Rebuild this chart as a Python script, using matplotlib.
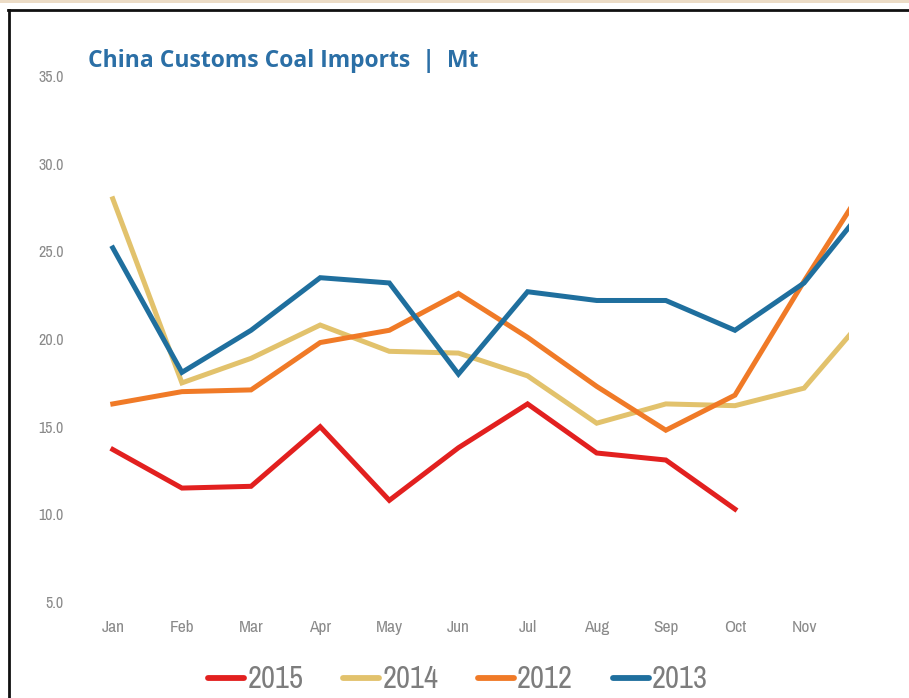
import numpy as np
import matplotlib
matplotlib.use("Agg")
import matplotlib.pyplot as plt
from matplotlib.lines import Line2D
from matplotlib.patches import Rectangle

months = ["Jan", "Feb", "Mar", "Apr", "May", "Jun", "Jul", "Aug", "Sep", "Oct", "Nov", "Dec"]
y2015 = [13.7, 11.5, 11.6, 15.0, 10.8, 13.8, 16.3, 13.5, 13.1, 10.3]
y2014 = [28.0, 17.5, 18.9, 20.8, 19.3, 19.2, 17.9, 15.2, 16.3, 16.2, 17.2, 21.8]
y2012 = [16.3, 17.0, 17.1, 19.8, 20.5, 22.6, 20.1, 17.3, 14.8, 16.8, 23.3, 29.5]
y2013 = [25.2, 18.1, 20.5, 23.5, 23.2, 18.0, 22.7, 22.2, 22.2, 20.5, 23.2, 28.1]
yticks = [5.0, 10.0, 15.0, 20.0, 25.0, 30.0, 35.0]

series = [("2015", y2015, "#e2201f"),
          ("2014", y2014, "#e2c26c"),
          ("2012", y2012, "#f07a27"),
          ("2013", y2013, "#1f6f9e")]

NARROW = ["Archivo Narrow", "DejaVu Sans"]
GREY = "#8a8a8a"

fig = plt.figure(figsize=(9.09, 6.98), dpi=100)
ax = fig.add_axes([0.099, 0.1375, 0.835, 0.7535])

for name, vals, col in series:
    ax.plot(np.arange(len(vals)), vals, color=col, lw=3.6, label=name,
            solid_joinstyle="miter")

ax.set_xticks(np.arange(len(months)))
ax.set_xticklabels(months, family=NARROW, fontsize=12.5, color=GREY)
ax.set_yticks(yticks)
ax.set_yticklabels([f"{v:.1f}" for v in yticks], family=NARROW, fontsize=11.5,
                   color=GREY)
# limits after the ticks, so Dec stays just outside the plot
ax.set_xlim(-0.33, 10.65)
ax.set_ylim(5, 35)
ax.tick_params(length=0)
ax.tick_params(axis="x", pad=13)
ax.tick_params(axis="y", pad=19)
for s in ax.spines.values():
    s.set_visible(False)

leg = ax.legend(loc="upper center", bbox_to_anchor=(0.485, -0.068), ncol=4,
                frameon=False, handlelength=1.18, handletextpad=0.1,
                columnspacing=1.3, prop={"family": NARROW, "size": 22})
for t in leg.get_texts():
    t.set_color("#7d7d7d")
for h in leg.legend_handles:
    h.set_linewidth(4.2)
    h.set_solid_capstyle("round")

fig.text(0.097, 0.912, "China Customs Coal Imports  |  Mt", color="#2b6fa6",
         fontsize=16.5, fontweight="bold", family="Open Sans",
         va="center", ha="left")

# page frame
fig.add_artist(Rectangle((0, 0.995), 1, 0.005, transform=fig.transFigure,
                         color="#ecdcc6", lw=0))
fig.add_artist(Line2D([0.0088, 1], [0.986, 0.986], transform=fig.transFigure,
                      color="#111111", lw=2))
fig.add_artist(Line2D([0.0099, 0.0099], [0, 0.986], transform=fig.transFigure,
                      color="#111111", lw=2))

fig.savefig("out.png", dpi=100)
